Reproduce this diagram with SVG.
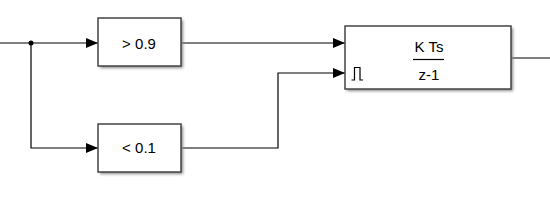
<svg xmlns="http://www.w3.org/2000/svg" width="550" height="203" viewBox="0 0 550 203">
<style>
.blk{fill:#fff;stroke:#444;stroke-width:1.5}
.sh{fill:#888;filter:url(#blur)}
.w{fill:none;stroke:#000;stroke-width:1.2}
.t{font-family:"Liberation Sans",Arial,sans-serif;font-size:15px;fill:#000;text-anchor:middle}
</style>
<defs>
<filter id="blur" x="-10%" y="-10%" width="130%" height="130%"><feGaussianBlur stdDeviation="1.5"/></filter>
<marker id="ah" markerWidth="12" markerHeight="10" refX="12" refY="5" orient="auto" markerUnits="userSpaceOnUse"><path d="M0,0 L12,5 L0,10 Z" fill="#000"/></marker>
</defs>
<g id="connectors">
<path class="w" d="M0,43 H98" marker-end="url(#ah)"/>
<path class="w" d="M31,43 V148 H98" marker-end="url(#ah)"/>
<circle cx="31" cy="43" r="2.5" fill="#000"/>
<path class="w" d="M181,43 H345" marker-end="url(#ah)"/>
<path class="w" d="M181,148 H278 V73 H345" marker-end="url(#ah)"/>
<path class="w" d="M511,58 H550"/>
</g>
<g id="cmp1">
<rect class="sh" x="100" y="20" width="83" height="48"/>
<rect class="blk" x="98" y="18" width="83" height="48"/>
<text class="t" x="139" y="48.5">&gt; 0.9</text>
</g>
<g id="cmp2">
<rect class="sh" x="100" y="126" width="83" height="48"/>
<rect class="blk" x="98" y="124" width="83" height="48"/>
<text class="t" x="139" y="153">&lt; 0.1</text>
</g>
<g id="integrator">
<rect class="sh" x="347" y="28" width="166" height="63"/>
<rect class="blk" x="345" y="26" width="166" height="63"/>
<text class="t" x="429" y="52">K Ts</text>
<line x1="413" y1="59.5" x2="444" y2="59.5" stroke="#000" stroke-width="1.2"/>
<text class="t" x="429" y="79.5">z-1</text>
<polyline points="351.5,80 354.5,80 354.5,67.5 360,67.5 360,80 363,80" fill="none" stroke="#000" stroke-width="1.2"/>
</g>
</svg>
